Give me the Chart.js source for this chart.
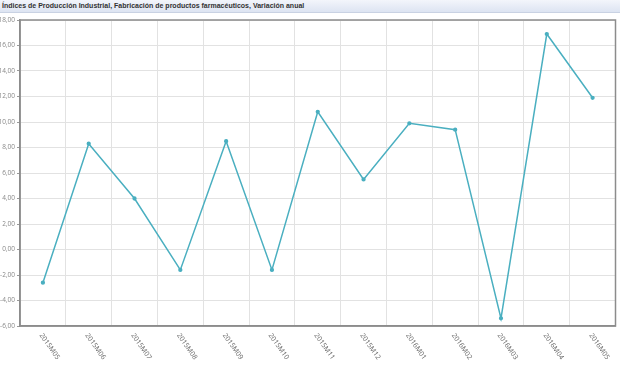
<!DOCTYPE html>
<html>
<head>
<meta charset="utf-8">
<script src="https://cdn.jsdelivr.net/npm/chart.js@4"></script>
<style>
  html, body { margin: 0; padding: 0; background: #fff; }
  #titlebar {
    height: 13px; width: 620px; box-sizing: border-box;
    background: linear-gradient(#f3f5fb, #dde4f2);
    border-bottom: 1px solid #c9d2e3;
    font: bold 7px 'Liberation Sans', Arial, sans-serif; color: #333;
    padding: 2px 0 0 2px; white-space: nowrap; overflow: hidden;
  }
  #wrap { position: relative; width: 620px; height: 355px; }
</style>
</head>
<body>
<div id="titlebar">Índices de Producción Industrial, Fabricación de productos farmacéuticos, Variación anual</div>
<div id="wrap"><canvas id="chart"></canvas></div>
<script>
document.addEventListener('DOMContentLoaded', () => {

    const periods = ['2015M05', '2015M06', '2015M07', '2015M08', '2015M09', '2015M10', '2015M11',
                     '2015M12', '2016M01', '2016M02', '2016M03', '2016M04', '2016M05'];
    const variacion = [-2.6, 8.3, 4.0, -1.6, 8.5, -1.6, 10.8, 5.5, 9.9, 9.4, -5.4, 16.9, 11.9];

    const yMin = -6, yMax = 18, yStep = 2;
    const teal = '#4aafc0';
    const gridGrey = '#e2e2e2';
    const frameGrey = '#8c8c8c';

    // rotated x labels (clockwise), plus the frame round the plot
    const decor = {
        id: 'decor',
        afterDraw(chart) {
            const ctx = chart.ctx;
            const a = chart.chartArea;
            const xs = chart.scales.x;
            ctx.save();
            ctx.strokeStyle = frameGrey;
            ctx.lineWidth = 1.5;
            ctx.strokeRect(a.left, a.top, a.right - a.left, a.bottom - a.top);
            ctx.fillStyle = '#666';
            ctx.font = "7px 'Open Sans', 'DejaVu Sans', sans-serif";
            ctx.textAlign = 'left';
            ctx.textBaseline = 'middle';
            periods.forEach((p, i) => {
                ctx.save();
                ctx.translate(xs.getPixelForValue(i) - 2, a.bottom + 8);
                ctx.rotate(55 * Math.PI / 180);
                ctx.fillText(p, 0, 0);
                ctx.restore();
            });
            ctx.restore();
        }
    };

    new Chart(document.getElementById('chart'), {
        type: 'line',
        data: {
            labels: periods,
            datasets: [{
                data: variacion,
                borderColor: teal,
                backgroundColor: teal,
                borderWidth: 1.5,
                pointRadius: 1.4,
                pointHoverRadius: 3,
                tension: 0
            }]
        },
        options: {
            responsive: true,
            maintainAspectRatio: false,
            animation: false,
            layout: { padding: { top: 7, right: 3, bottom: 42, left: 0 } },
            plugins: { legend: { display: false }, tooltip: { enabled: false } },
            scales: {
                x: {
                    offset: true,
                    grid: { offset: true, color: gridGrey, drawTicks: false },
                    border: { color: frameGrey, width: 1.5 },
                    ticks: { display: false },
                    afterFit: s => { s.height = 0; }
                },
                y: {
                    min: yMin, max: yMax,
                    grid: { color: gridGrey, tickLength: 3, tickColor: '#999' },
                    border: { color: frameGrey, width: 1.5 },
                    ticks: {
                        stepSize: yStep,
                        padding: 2,
                        color: '#888',
                        font: { family: "'Open Sans', 'DejaVu Sans', sans-serif", size: 6.5 },
                        callback: v => (Math.abs(v) < 1e-9 ? 0 : v).toFixed(2).replace('.', ',')
                    },
                    afterFit: s => { s.width = 20; }
                }
            }
        },
        plugins: [decor]
    });

});
</script>
</body>
</html>
